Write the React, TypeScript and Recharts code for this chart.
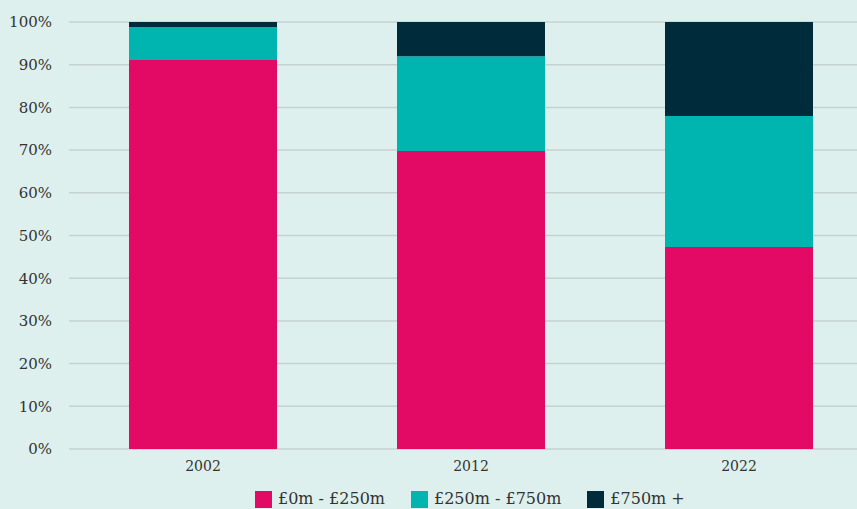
import { Bar, BarChart, CartesianGrid, Legend, XAxis, YAxis } from "recharts";

const years = ["2002", "2012", "2022"];
const small = [91.1, 69.8, 47.3];
const mid = [7.7, 22.2, 30.7];
const large = [1.2, 8.0, 22.0];
const yTicks = [0, 10, 20, 30, 40, 50, 60, 70, 80, 90, 100];

const seriesNames = ["£0m - £250m", "£250m - £750m", "£750m +"];
const colors = ["#e20a65", "#00b4b0", "#002b3a"];

const data = years.map((year, i) => ({
  year,
  small: small[i],
  mid: mid[i],
  large: large[i],
}));

const font = "Georgia, 'DejaVu Serif', serif";

const LegendContent = () => (
  <div style={{ display: "flex", paddingLeft: 255, paddingTop: 1, fontFamily: font }}>
    {seriesNames.map((name, i) => (
      <div key={name} style={{ display: "flex", alignItems: "center", marginRight: 26 }}>
        <span style={{ width: 17, height: 17, background: colors[i], display: "inline-block", marginRight: 6 }} />
        <span style={{ fontSize: 16, lineHeight: "18px", color: "#333" }}>{name}</span>
      </div>
    ))}
  </div>
);

const App = () => {
  return (
    <div
      style={{
        position: "absolute",
        top: 0,
        left: 0,
        width: 857,
        height: 509,
        overflow: "hidden",
        background: "#def0ed",
      }}
    >
      <BarChart width={873} height={540} data={data} margin={{ top: 22, right: 0, bottom: 0, left: 0 }}>
        <CartesianGrid vertical={false} stroke="#c5d2d0" strokeWidth={1.5} />
        <XAxis
          dataKey="year"
          axisLine={false}
          tickLine={false}
          height={40}
          tickSize={0}
          tickMargin={12}
          tick={{ fill: "#333", fontSize: 14, fontFamily: font }}
        />
        <YAxis
          width={69}
          domain={[0, 100]}
          ticks={yTicks}
          tickFormatter={(v: number) => `${v}%`}
          axisLine={false}
          tickLine={false}
          tickSize={0}
          tickMargin={17}
          tick={{ fill: "#333", fontSize: 15, fontFamily: font }}
        />
        <Legend verticalAlign="bottom" height={51} content={<LegendContent />} />
        <Bar dataKey="small" name={seriesNames[0]} stackId="a" fill={colors[0]} barSize={148} isAnimationActive={false} />
        <Bar dataKey="mid" name={seriesNames[1]} stackId="a" fill={colors[1]} barSize={148} isAnimationActive={false} />
        <Bar dataKey="large" name={seriesNames[2]} stackId="a" fill={colors[2]} barSize={148} isAnimationActive={false} />
      </BarChart>
    </div>
  );
};

export default App;
